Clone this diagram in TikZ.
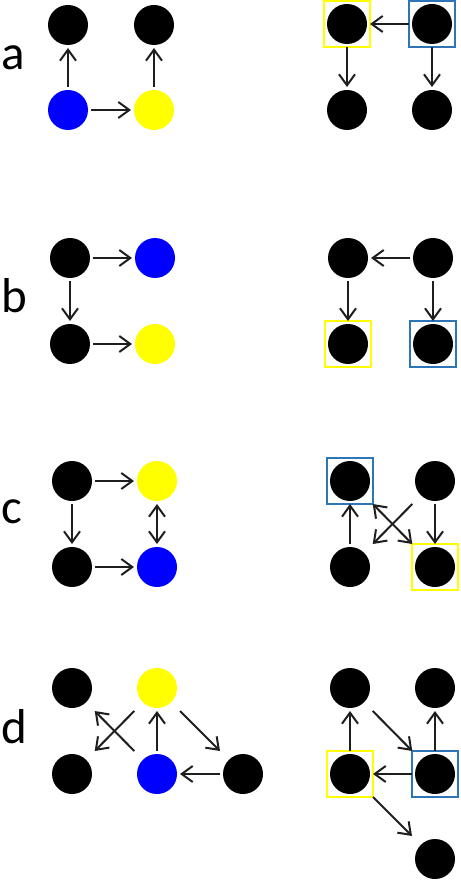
\documentclass[tikz,border=0pt]{standalone}
\usepackage{fontspec}
\setmainfont{Carlito}
\usetikzlibrary{arrows.meta}
\definecolor{boxblue}{RGB}{46,117,182}
\definecolor{dotblue}{RGB}{0,0,255}
\definecolor{dotyellow}{RGB}{255,255,0}
\definecolor{edgecol}{RGB}{30,30,30}
\begin{document}
\begin{tikzpicture}[x=1pt,y=-1pt,
  vert/.style={rectangle, minimum size=46pt, inner sep=0pt, outer sep=0pt,
    path picture={\fill[#1] (path picture bounding box.center) circle[radius=20pt];}},
  vert/.default=black,
  yb/.style={draw=dotyellow, line width=2.4pt},
  bb/.style={draw=boxblue, line width=2.4pt},
  edge/.style={draw=edgecol, line width=2pt, -{Straight Barb[length=11pt,width=16pt,line width=2pt]}},
  dedge/.style={draw=edgecol, line width=2pt, {Straight Barb[length=11pt,width=16pt,line width=2pt]}-{Straight Barb[length=11pt,width=16pt,line width=2pt]}},
  lab/.style={anchor=base west, inner sep=0pt, font=\fontsize{49}{50}\selectfont}
]
\useasboundingbox (0,0) rectangle (460,882);
% labels
\node[lab] (la) at (1,70) {a};
\node[lab] (lb) at (1,312) {b};
\node[lab] (lc) at (1,523) {c};
\node[lab] (ld) at (1,743) {d};
% panel a
\node[vert] (a1) at (68,25) {};
\node[vert] (a2) at (154,25) {};
\node[vert=dotblue] (a3) at (68,110) {};
\node[vert=dotyellow] (a4) at (154,110) {};
\node[vert,yb] (ar1) at (347,24) {};
\node[vert,bb] (ar2) at (432,24) {};
\node[vert] (ar3) at (347,110) {};
\node[vert] (ar4) at (432,110) {};
\draw[edge] (a3) -- (a1);
\draw[edge] (a3) -- (a4);
\draw[edge] (a4) -- (a2);
\draw[edge] (ar2) -- (ar1);
\draw[edge] (ar1) -- (ar3);
\draw[edge] (ar2) -- (ar4);
% panel b
\node[vert] (b1) at (70,258) {};
\node[vert=dotblue] (b2) at (155,258) {};
\node[vert] (b3) at (70,344) {};
\node[vert=dotyellow] (b4) at (155,344) {};
\node[vert] (br1) at (348,258) {};
\node[vert] (br2) at (433,258) {};
\node[vert,yb] (br3) at (348,344) {};
\node[vert,bb] (br4) at (433,344) {};
\draw[edge] (b1) -- (b2);
\draw[edge] (b1) -- (b3);
\draw[edge] (b3) -- (b4);
\draw[edge] (br2) -- (br1);
\draw[edge] (br1) -- (br3);
\draw[edge] (br2) -- (br4);
% panel c
\node[vert] (c1) at (72,481) {};
\node[vert=dotyellow] (c2) at (157,481) {};
\node[vert] (c3) at (72,567) {};
\node[vert=dotblue] (c4) at (157,567) {};
\node[vert,bb] (cr1) at (350,481) {};
\node[vert] (cr2) at (435,481) {};
\node[vert] (cr3) at (350,567) {};
\node[vert,yb] (cr4) at (435,567) {};
\draw[edge] (c1) -- (c2);
\draw[edge] (c1) -- (c3);
\draw[edge] (c3) -- (c4);
\draw[dedge] (c2) -- (c4);
\draw[edge] (cr3) -- (cr1);
\draw[edge] (cr2) -- (cr4);
\draw[dedge] (cr1) -- (cr4);
\draw[edge] (cr2) -- (cr3);
% panel d
\node[vert] (d1) at (72,688) {};
\node[vert=dotyellow] (d2) at (157,688) {};
\node[vert] (d3) at (72,774) {};
\node[vert=dotblue] (d4) at (157,774) {};
\node[vert] (d5) at (243,774) {};
\node[vert] (dr1) at (350,688) {};
\node[vert] (dr2) at (435,688) {};
\node[vert,yb] (dr3) at (350,774) {};
\node[vert,bb] (dr4) at (435,774) {};
\node[vert] (dr5) at (435,859) {};
\draw[edge] (d4) -- (d2);
\draw[edge] (d5) -- (d4);
\draw[edge] (d2) -- (d5);
\draw[edge] (d2) -- (d3);
\draw[edge] (d4) -- (d1);
\draw[edge] (dr3) -- (dr1);
\draw[edge] (dr4) -- (dr2);
\draw[edge] (dr4) -- (dr3);
\draw[edge] (dr1) -- (dr4);
\draw[edge] (dr3) -- (dr5);
\end{tikzpicture}
\end{document}
